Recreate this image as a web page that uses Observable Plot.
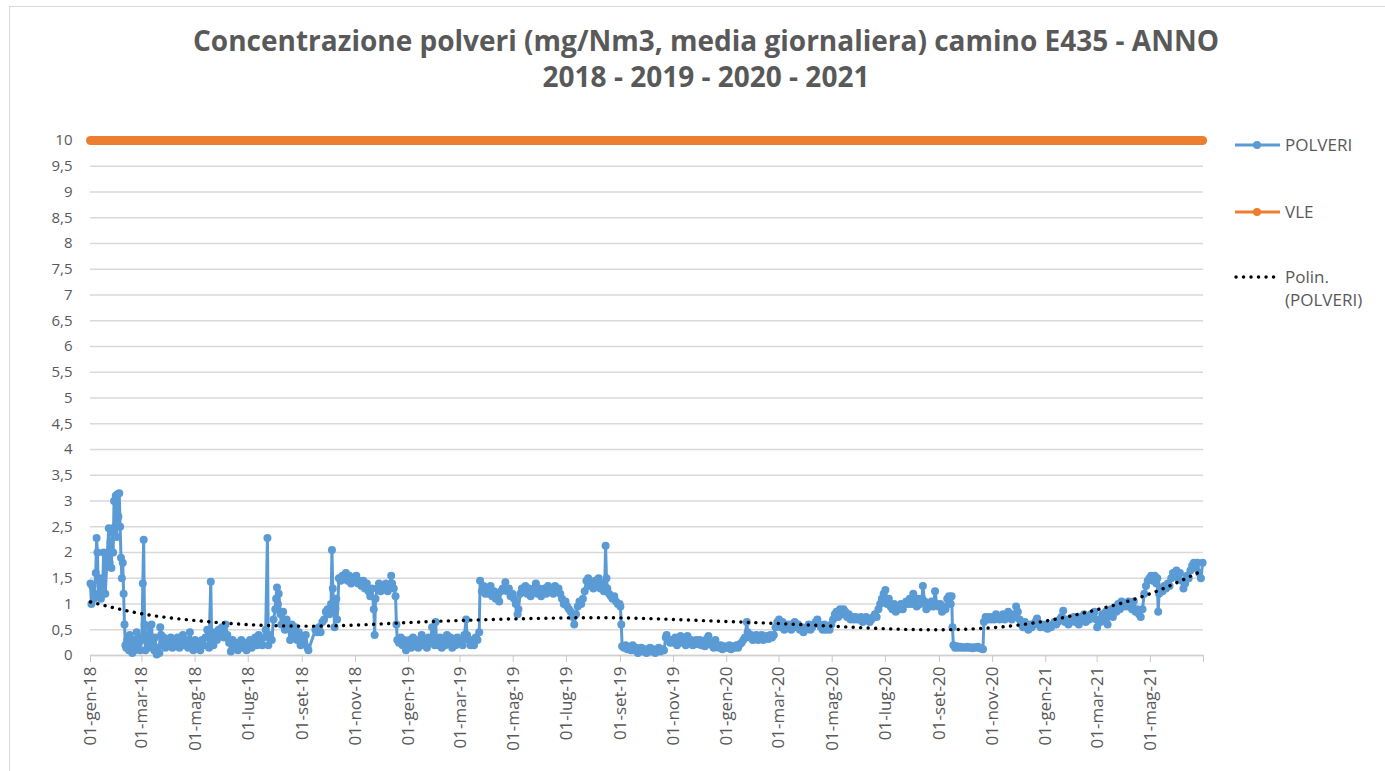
<!DOCTYPE html>
<html><head><meta charset="utf-8">
<script src="https://cdn.jsdelivr.net/npm/d3@7"></script>
<script src="https://cdn.jsdelivr.net/npm/@observablehq/plot@0.6"></script>
<style>
body{margin:0;background:#fff;overflow:hidden;width:1385px;height:771px;font-family:"Open Sans",sans-serif;}
#frame{position:absolute;left:9px;top:6px;width:1400px;height:800px;border:1px solid #d9d9d9;box-sizing:border-box;}
#title{position:absolute;left:0;top:22px;width:1412px;text-align:center;color:#595959;font-weight:bold;font-size:28px;line-height:36px;}
#chart{position:absolute;left:0;top:110px;}
#legend{position:absolute;left:0;top:0;pointer-events:none;}
</style></head>
<body>
<div id="frame"></div>
<div id="title">Concentrazione polveri (mg/Nm3, media giornaliera) camino E435 - ANNO<br>2018 - 2019 - 2020 - 2021</div>
<div id="chart"></div>
<svg id="legend" width="1385" height="771"></svg>
<script>
// POLVERI daily values, [mese-giorno, valore]
const p2018 = [["01-01",1.4],["01-02",1.0],["01-03",1.35],["01-05",1.1],["01-07",1.6],["01-08",2.28],["01-09",2.0],["01-10",1.2],["01-12",1.5],["01-13",1.1],["01-15",1.3],["01-16",2.0],["01-18",1.2],["01-20",1.9],["01-22",2.47],["01-23",1.8],["01-24",2.2],["01-25",1.7],["01-26",2.4],["01-27",2.0],["01-28",3.0],["01-29",2.5],["01-30",3.1],["01-31",2.3],
["02-01",3.13],["02-02",2.7],["02-03",3.15],["02-04",2.5],["02-05",1.9],["02-06",1.5],["02-07",1.8],["02-08",1.2],["02-09",0.6],["02-10",0.2],["02-11",0.15],["02-12",0.3],["02-14",0.1],["02-15",0.4],["02-17",0.2],["02-18",0.05],["02-20",0.3],["02-21",0.1],["02-23",0.45],["02-24",0.2],["02-26",0.35],["02-27",0.1],
["03-01",0.3],["03-02",1.4],["03-03",2.25],["03-04",0.6],["03-05",0.1],["03-06",0.4],["03-08",0.15],["03-09",0.55],["03-10",0.2],["03-12",0.6],["03-13",0.3],["03-15",0.1],["03-16",0.35],["03-18",0.02],["03-19",0.15],["03-21",0.05],["03-22",0.55],["03-23",0.4],["03-25",0.2],["03-26",0.35],["03-28",0.15],["03-30",0.3],
["04-01",0.2],["04-03",0.35],["04-05",0.15],["04-07",0.3],["04-09",0.2],["04-11",0.35],["04-13",0.15],["04-15",0.25],["04-17",0.4],["04-19",0.2],["04-21",0.3],["04-23",0.15],["04-25",0.45],["04-27",0.25],["04-29",0.1],
["05-01",0.3],["05-03",0.15],["05-05",0.25],["05-07",0.1],["05-09",0.3],["05-11",0.2],["05-13",0.35],["05-15",0.5],["05-17",0.15],["05-19",1.43],["05-20",0.3],["05-22",0.2],["05-24",0.45],["05-26",0.3],["05-28",0.5],["05-30",0.4],
["06-01",0.55],["06-03",0.35],["06-05",0.6],["06-07",0.4],["06-09",0.25],["06-11",0.08],["06-13",0.3],["06-15",0.15],["06-17",0.25],["06-19",0.1],["06-21",0.2],["06-23",0.3],["06-25",0.15],["06-27",0.25],["06-29",0.1],
["07-01",0.2],["07-03",0.3],["07-05",0.15],["07-07",0.25],["07-09",0.35],["07-11",0.2],["07-13",0.4],["07-15",0.25],["07-17",0.2],["07-19",0.35],["07-21",0.5],["07-23",2.28],["07-24",0.2],["07-26",0.4],["07-28",0.3],["07-30",0.7],
["08-01",0.9],["08-02",1.1],["08-03",1.32],["08-04",1.0],["08-05",1.2],["08-07",0.8],["08-08",0.6],["08-10",0.85],["08-12",0.5],["08-14",0.7],["08-16",0.55],["08-18",0.3],["08-20",0.6],["08-22",0.4],["08-24",0.55],["08-26",0.3],["08-28",0.45],["08-30",0.2],
["09-01",0.35],["09-03",0.25],["09-05",0.4],["09-07",0.15],["09-08",0.1],["09-16",0.5],["09-18",0.45],["09-20",0.55],["09-22",0.45],["09-24",0.65],["09-26",0.7],["09-28",0.85],["09-30",0.9],
["10-02",0.8],["10-03",0.85],["10-04",1.0],["10-05",2.05],["10-06",1.3],["10-07",1.0],["10-08",0.55],["10-09",0.9],["10-10",1.1],["10-11",0.7],["10-13",1.5],["10-15",1.45],["10-17",1.55],["10-19",1.5],["10-21",1.6],["10-23",1.45],["10-25",1.55],["10-27",1.4],["10-29",1.5],["10-31",1.45],
["11-02",1.55],["11-04",1.4],["11-06",1.45],["11-08",1.35],["11-10",1.45],["11-12",1.3],["11-14",1.4],["11-16",1.25],["11-18",1.15],["11-20",1.3],["11-22",0.9],["11-23",0.4],["11-24",1.1],["11-26",1.3],["11-28",1.4],["11-30",1.25],
["12-02",1.35],["12-04",1.3],["12-06",1.4],["12-08",1.25],["12-10",1.3],["12-12",1.55],["12-13",1.4],["12-15",1.3],["12-17",1.15],["12-18",0.6],["12-19",0.3],["12-21",0.25],["12-23",0.35],["12-25",0.2],["12-27",0.3],["12-29",0.1],["12-31",0.2]];

const p2019 = [["01-02",0.3],["01-04",0.15],["01-06",0.35],["01-08",0.2],["01-10",0.3],["01-12",0.15],["01-14",0.25],["01-16",0.4],["01-18",0.2],["01-20",0.3],["01-22",0.15],["01-24",0.35],["01-26",0.25],["01-28",0.55],["01-29",0.3],["01-31",0.2],
["02-01",0.65],["02-02",0.3],["02-04",0.2],["02-06",0.35],["02-08",0.15],["02-10",0.3],["02-12",0.2],["02-14",0.4],["02-16",0.25],["02-18",0.35],["02-20",0.15],["02-22",0.3],["02-24",0.2],["02-26",0.35],["02-28",0.25],
["03-02",0.3],["03-04",0.2],["03-06",0.4],["03-08",0.7],["03-09",0.4],["03-11",0.3],["03-13",0.2],["03-15",0.3],["03-17",0.2],["03-19",0.35],["03-21",0.3],["03-23",0.45],["03-24",1.45],["03-26",1.25],["03-28",1.35],["03-30",1.2],
["04-01",1.3],["04-03",1.2],["04-05",1.35],["04-07",1.15],["04-09",1.25],["04-11",1.1],["04-13",1.2],["04-15",1.05],["04-17",1.25],["04-19",1.3],["04-22",1.42],["04-24",1.25],["04-26",1.3],["04-28",1.15],["04-30",1.2],
["05-02",1.1],["05-04",1.0],["05-06",0.8],["05-07",0.9],["05-09",1.2],["05-11",1.3],["05-13",1.25],["05-15",1.35],["05-17",1.2],["05-19",1.3],["05-21",1.15],["05-23",1.25],["05-25",1.3],["05-27",1.4],["05-29",1.2],["05-31",1.3],
["06-02",1.15],["06-04",1.25],["06-06",1.3],["06-08",1.2],["06-10",1.35],["06-12",1.25],["06-14",1.3],["06-16",1.2],["06-18",1.35],["06-20",1.25],["06-22",1.3],["06-24",1.2],["06-26",1.1],["06-28",1.0],["06-30",1.05],
["07-02",0.95],["07-04",0.9],["07-06",0.85],["07-08",0.75],["07-10",0.6],["07-12",0.8],["07-14",0.95],["07-16",1.05],["07-18",1.0],["07-20",1.1],["07-22",1.25],["07-24",1.45],["07-26",1.5],["07-28",1.35],["07-30",1.4],
["08-01",1.3],["08-03",1.45],["08-05",1.35],["08-07",1.5],["08-09",1.3],["08-11",1.4],["08-13",1.25],["08-14",1.35],["08-15",2.13],["08-16",1.5],["08-17",1.3],["08-19",1.2],["08-21",1.15],["08-23",1.1],["08-25",1.15],["08-27",1.05],["08-29",1.0],["08-31",1.0],
["09-01",0.95],["09-02",0.6],["09-03",0.18],["09-05",0.15],["09-07",0.2],["09-09",0.12],["09-11",0.15],["09-13",0.1],["09-15",0.2],["09-17",0.1],["09-19",0.15],["09-21",0.05],["09-23",0.1],["09-25",0.15],["09-27",0.08],["09-29",0.12],
["10-01",0.05],["10-03",0.1],["10-05",0.15],["10-07",0.08],["10-09",0.12],["10-11",0.05],["10-13",0.1],["10-15",0.15],["10-17",0.08],["10-19",0.12],["10-21",0.1],["10-23",0.35],["10-24",0.4],["10-26",0.3],["10-28",0.25],["10-30",0.3],
["11-01",0.25],["11-03",0.35],["11-05",0.2],["11-07",0.3],["11-09",0.38],["11-11",0.25],["11-13",0.3],["11-15",0.2],["11-17",0.38],["11-19",0.28],["11-21",0.3],["11-23",0.2],["11-25",0.25],["11-27",0.3],["11-29",0.22],
["12-01",0.3],["12-03",0.2],["12-05",0.25],["12-07",0.18],["12-09",0.32],["12-11",0.38],["12-13",0.25],["12-15",0.2],["12-17",0.15],["12-19",0.3],["12-21",0.2],["12-23",0.15],["12-25",0.2],["12-27",0.12],["12-29",0.18],["12-31",0.15]];

const p2020 = [["01-02",0.15],["01-04",0.2],["01-06",0.12],["01-08",0.18],["01-10",0.15],["01-12",0.2],["01-14",0.15],["01-16",0.22],["01-18",0.25],["01-20",0.3],["01-22",0.35],["01-24",0.65],["01-25",0.45],["01-27",0.35],["01-29",0.4],["01-31",0.3],
["02-02",0.35],["02-04",0.4],["02-06",0.3],["02-08",0.35],["02-10",0.4],["02-12",0.3],["02-14",0.35],["02-16",0.38],["02-18",0.32],["02-20",0.4],["02-22",0.35],["02-24",0.4],["02-26",0.55],["02-28",0.65],
["03-01",0.7],["03-03",0.55],["03-05",0.65],["03-07",0.5],["03-09",0.6],["03-11",0.55],["03-13",0.6],["03-15",0.5],["03-17",0.6],["03-19",0.65],["03-21",0.55],["03-23",0.6],["03-25",0.5],["03-27",0.55],["03-29",0.45],["03-31",0.5],
["04-02",0.55],["04-04",0.6],["04-06",0.5],["04-08",0.55],["04-10",0.6],["04-12",0.65],["04-14",0.7],["04-16",0.6],["04-18",0.55],["04-20",0.5],["04-22",0.6],["04-24",0.5],["04-26",0.55],["04-28",0.5],["04-30",0.6],
["05-02",0.7],["05-04",0.8],["05-06",0.85],["05-08",0.75],["05-10",0.9],["05-12",0.8],["05-14",0.9],["05-16",0.85],["05-18",0.75],["05-20",0.8],["05-22",0.7],["05-24",0.75],["05-26",0.7],["05-28",0.75],["05-30",0.7],
["06-01",0.7],["06-03",0.75],["06-05",0.65],["06-07",0.7],["06-09",0.75],["06-11",0.7],["06-13",0.65],["06-15",0.7],["06-17",0.75],["06-19",0.8],["06-21",0.75],["06-23",0.9],["06-25",1.0],["06-27",1.1],["06-29",1.2],
["07-01",1.27],["07-03",1.0],["07-05",1.1],["07-07",0.95],["07-09",0.9],["07-11",1.0],["07-13",0.85],["07-15",0.95],["07-17",0.9],["07-19",1.0],["07-21",0.9],["07-23",1.0],["07-25",1.05],["07-27",1.0],["07-29",1.1],["07-31",1.0],
["08-02",1.2],["08-04",1.05],["08-06",0.95],["08-08",1.1],["08-10",1.0],["08-12",1.1],["08-13",1.35],["08-15",1.05],["08-17",0.9],["08-19",1.0],["08-21",0.95],["08-23",1.05],["08-25",0.95],["08-27",1.25],["08-29",1.0],["08-31",0.95],
["09-02",1.0],["09-04",0.85],["09-06",0.95],["09-08",0.9],["09-10",1.1],["09-12",1.15],["09-14",1.0],["09-15",1.15],["09-16",0.55],["09-17",0.2],["09-19",0.15],["09-21",0.18],["09-23",0.15],["09-25",0.17],["09-27",0.15],["09-29",0.16],
["10-01",0.15],["10-03",0.17],["10-05",0.15],["10-07",0.16],["10-09",0.14],["10-11",0.16],["10-13",0.15],["10-15",0.17],["10-17",0.15],["10-19",0.13],["10-21",0.12],["10-22",0.65],["10-24",0.75],["10-26",0.7],["10-28",0.75],["10-30",0.7],
["11-01",0.75],["11-03",0.7],["11-05",0.8],["11-07",0.75],["11-09",0.7],["11-11",0.75],["11-13",0.8],["11-15",0.7],["11-17",0.75],["11-19",0.85],["11-21",0.8],["11-23",0.7],["11-25",0.8],["11-27",0.75],["11-28",0.95],["11-30",0.85],
["12-02",0.7],["12-04",0.6],["12-06",0.55],["12-08",0.65],["12-10",0.55],["12-12",0.5],["12-14",0.6],["12-16",0.55],["12-18",0.6],["12-20",0.65],["12-22",0.72],["12-24",0.6],["12-26",0.55],["12-28",0.6],["12-30",0.55]];

const p2021 = [["01-01",0.6],["01-03",0.52],["01-05",0.58],["01-07",0.55],["01-09",0.6],["01-11",0.65],["01-13",0.6],["01-15",0.65],["01-17",0.7],["01-19",0.75],["01-21",0.87],["01-23",0.65],["01-25",0.7],["01-27",0.6],["01-29",0.65],["01-31",0.7],
["02-02",0.75],["02-04",0.65],["02-06",0.7],["02-08",0.6],["02-10",0.75],["02-12",0.7],["02-14",0.8],["02-16",0.65],["02-18",0.75],["02-20",0.7],["02-22",0.8],["02-24",0.75],["02-26",0.85],["02-28",0.7],
["03-01",0.55],["03-03",0.7],["03-05",0.65],["03-07",0.8],["03-09",0.7],["03-11",0.85],["03-13",0.6],["03-15",0.8],["03-17",0.9],["03-19",0.75],["03-21",0.9],["03-23",0.85],["03-25",1.0],["03-27",0.9],["03-29",1.05],["03-31",0.95],
["04-02",1.0],["04-04",0.95],["04-06",1.05],["04-08",1.0],["04-10",0.9],["04-12",1.05],["04-14",0.85],["04-16",0.9],["04-18",0.8],["04-20",0.75],["04-22",0.9],["04-24",1.2],["04-26",1.35],["04-28",1.45],["04-30",1.5],
["05-02",1.55],["05-04",1.45],["05-06",1.55],["05-08",1.4],["05-09",1.5],["05-10",0.85],["05-11",1.2],["05-13",1.3],["05-15",1.25],["05-17",1.35],["05-19",1.3],["05-21",1.4],["05-23",1.35],["05-25",1.5],["05-27",1.6],["05-29",1.55],["05-31",1.65],
["06-02",1.5],["06-04",1.6],["06-06",1.45],["06-08",1.3],["06-10",1.4],["06-12",1.55],["06-14",1.5],["06-16",1.65],["06-18",1.75],["06-20",1.8],["06-22",1.7],["06-24",1.8],["06-26",1.6],["06-28",1.5],["06-30",1.8]];

// VLE (limit value)
const vleValue = 10;

// Polynomial trendline values
const trendDates = ["2018-01-01","2018-03-01","2018-05-01","2018-07-01","2018-09-01","2018-11-01","2019-01-01","2019-03-01","2019-05-01","2019-07-01","2019-09-01","2019-11-01","2020-01-01","2020-03-01","2020-05-01","2020-07-01","2020-09-01","2020-11-01","2021-01-01","2021-03-01","2021-05-01","2021-06-30"];
const trendValues = [1.04,0.81,0.68,0.60,0.57,0.59,0.64,0.68,0.71,0.73,0.73,0.70,0.66,0.62,0.57,0.52,0.50,0.54,0.67,0.89,1.20,1.65];

const yTicks = [0,0.5,1,1.5,2,2.5,3,3.5,4,4.5,5,5.5,6,6.5,7,7.5,8,8.5,9,9.5,10];
const mesi = ["gen","feb","mar","apr","mag","giu","lug","ago","set","ott","nov","dic"];

const parse = d3.utcParse("%Y-%m-%d");
const polveri = [];
for (const [yr, arr] of [[2018,p2018],[2019,p2019],[2020,p2020],[2021,p2021]])
  for (const [md, v] of arr) polveri.push({date: parse(`${yr}-${md}`), value: v});
const vle = polveri.map(d => ({date: d.date, value: vleValue}));
const trend = trendDates.map((d, i) => ({date: parse(d), value: trendValues[i]}));

const start = parse("2018-01-01"), end = parse("2021-07-01");
const xTicks = d3.utcMonth.every(2).range(start, parse("2021-06-02")).concat([end]);
const fmt = d => +d >= +end ? "" : `01-${mesi[d.getUTCMonth()]}-${String(d.getUTCFullYear()).slice(2)}`;

const FONT = '"Open Sans", sans-serif';
const chart = Plot.plot({
  width: 1385, height: 655,
  marginLeft: 90, marginRight: 182, marginTop: 30, marginBottom: 110,
  x: {type: "utc", domain: [start, end], label: null},
  y: {domain: [0, 10], label: null},
  style: {fontFamily: FONT, fontSize: "15px", color: "#595959", background: "transparent"},
  marks: [
    Plot.gridY(yTicks, {stroke: "#d9d9d9", strokeOpacity: 1, strokeWidth: 1.3}),
    Plot.axisY(yTicks, {tickSize: 0, tickPadding: 18, tickFormat: d => String(d).replace(".", ","), fill: "#595959", fontSize: 15, label: null}),
    Plot.ruleY([0], {stroke: "#d0d0d0", strokeWidth: 1.3}),
    Plot.axisX(xTicks, {tickSize: 7, tickPadding: 4, tickRotate: -90, tickFormat: fmt, stroke: "#c8c8c8", fill: "#595959", fontSize: 17, label: null}),
    Plot.line(polveri, {x: "date", y: "value", stroke: "#5B9BD5", strokeWidth: 3}),
    Plot.dot(polveri, {x: "date", y: "value", r: 4, fill: "#5B9BD5", stroke: "none"}),
    Plot.line(vle, {x: "date", y: "value", stroke: "#ED7D31", strokeWidth: 9, strokeLinecap: "round"}),
    Plot.line(trend, {x: "date", y: "value", curve: "natural", stroke: "#000", strokeWidth: 3.4, strokeDasharray: "0.1 7.4", strokeLinecap: "round"})
  ]
});
document.getElementById("chart").appendChild(chart);

// legend
const lg = d3.select("#legend");
const items = [
  {label: ["POLVERI"], color: "#5B9BD5", y: 145, type: "marker"},
  {label: ["VLE"], color: "#ED7D31", y: 212, type: "marker"},
  {label: ["Polin.", "(POLVERI)"], color: "#000", y: 277, type: "dotted"}
];
for (const it of items) {
  if (it.type === "marker") {
    lg.append("line").attr("x1", 1235).attr("x2", 1280).attr("y1", it.y).attr("y2", it.y).attr("stroke", it.color).attr("stroke-width", 3);
    lg.append("circle").attr("cx", 1257).attr("cy", it.y).attr("r", 4).attr("fill", it.color);
  } else {
    lg.append("line").attr("x1", 1236).attr("x2", 1279).attr("y1", it.y).attr("y2", it.y).attr("stroke", it.color).attr("stroke-width", 3.4).attr("stroke-dasharray", "0.1 7.4").attr("stroke-linecap", "round");
  }
  it.label.forEach((t, i) => {
    lg.append("text").attr("x", 1285).attr("y", it.y + i * 23).attr("dy", "0.35em").attr("fill", "#595959").style("font-family", FONT).style("font-size", "17px").text(t);
  });
}
</script>
</body></html>
